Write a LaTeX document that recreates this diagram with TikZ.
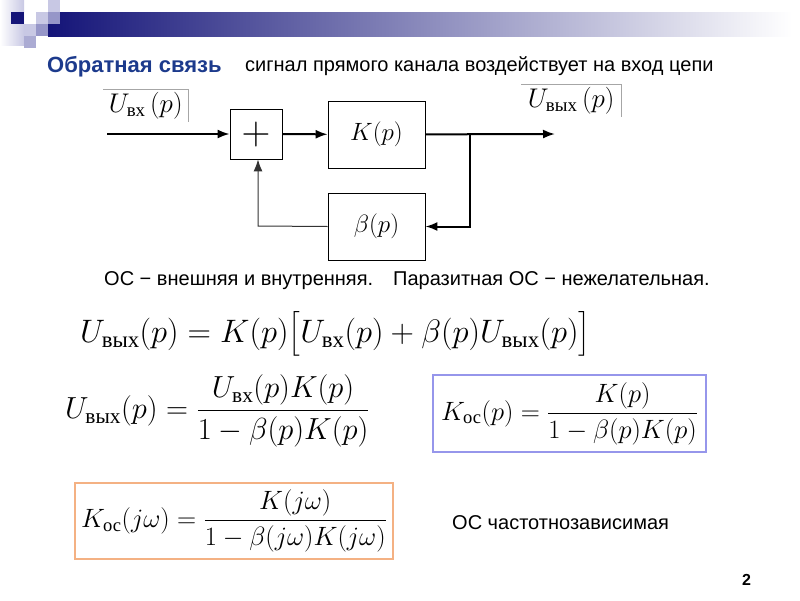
\RequirePackage{fix-cm}
\documentclass[tikz,border=0pt]{standalone}
\usepackage{fontspec}
\usepackage{amsmath}
\setmainfont{Liberation Sans}
\newfontfamily\tnr{Liberation Serif}
\usetikzlibrary{arrows.meta}
\definecolor{navy}{RGB}{20,20,120}
\definecolor{titleblue}{RGB}{28,58,140}
\definecolor{lav}{RGB}{200,200,228}
\definecolor{lavmid}{RGB}{150,150,200}
\definecolor{boxblue}{RGB}{150,150,235}
\definecolor{boxorange}{RGB}{244,177,131}
\newcommand{\cyr}[1]{\text{\tnr #1}}

\tikzset{
  blk/.style={draw, line width=0.8pt, minimum width=97pt, minimum height=67pt, inner sep=0pt, font=\fontsize{25}{28}\selectfont},
  fwd/.style={line width=2pt, -{Latex[length=12pt,width=9pt]}},
  fb/.style={line width=1pt, draw=black!80, -{Latex[length=12pt,width=9pt]}},
  lbl/.style={draw=black!35, line width=0.8pt},
  lblbox/.style={anchor=north west, inner sep=0pt, font=\fontsize{27}{30}\selectfont},
  txt/.style={anchor=base west, inner sep=0pt, font=\fontsize{20}{24}\selectfont},
  eq/.style={inner sep=0pt, font=\fontsize{26.5}{30}\selectfont},
}

\begin{document}
\begin{tikzpicture}[x=1pt,y=-1pt]
\useasboundingbox (0,0) rectangle (800,600);

%header
\shade[left color=navy, right color=white] (48,12) rectangle (792,36);
\shade[left color=white, right color=lav] (0,0) rectangle (24,45);
\fill[navy] (11,12) rectangle (24,24);
\fill[lav] (24,24) rectangle (36,36);
\fill[lav] (36,12) rectangle (48,24);
\fill[lavmid] (36,24) rectangle (48,36);
\fill[lav] (48,0) rectangle (60,12);
\fill[lavmid] (48,12) rectangle (60,24);
\fill[lavmid!80] (24,36) rectangle (36,48);

%title
\node[txt, font=\bfseries\fontsize{22}{24}\selectfont, text=titleblue] (title) at (47,72) {Обратная связь};
\node[txt] (sub) at (245,71) {сигнал прямого канала воздействует на вход цепи};

%block diagram
\node[blk, minimum width=52pt, minimum height=50pt, font=\fontsize{40}{40}\selectfont] (plus) at (256,134) {$+$};
\node[blk] (K) at (376.5,134.5) {$K(p)$};
\node[blk] (beta) at (376.5,226.5) {$\beta(p)$};
\coordinate (in) at (107,134);
\coordinate (out) at (555,134);
\coordinate (branch) at (470,134);
\coordinate (fbcorner) at (258,226);

\draw[fwd] (in) -- (plus);
\draw[fwd] (plus) -- (K);
\draw[fwd] (K) -- (out);
\draw[fwd] (branch) |- (beta);
\draw[fb] (beta.west) -- (fbcorner) -- (plus.south -| fbcorner);

\node[lblbox, minimum width=85pt, minimum height=33pt] (uin) at (103,89) {$U_{\cyr{вх}}\,(p)$};
\draw[lbl] (uin.north west) -- (uin.north east) -- (uin.south east);
\node[lblbox, minimum width=100pt, minimum height=33pt] (uout) at (521,84) {$U_{\cyr{вых}}\,(p)$};
\draw[lbl] (uout.north west) -- (uout.north east) -- (uout.south east);

%remarks
\node[txt] (osA) at (104,285) {ОС − внешняя и внутренняя.};
\node[txt] (osB) at (393,285) {Паразитная ОС − нежелательная.};

%equations
\node[eq, anchor=west, font=\fontsize{32.5}{34}\selectfont] (eqa) at (80,334) {$U_{\cyr{вых}}(p)=K(p)\big[U_{\cyr{вх}}(p)+\beta(p)U_{\cyr{вых}}(p)\big]$};
\node[eq, anchor=west, font=\fontsize{30.5}{32}\selectfont] (eqb) at (65,411) {$U_{\cyr{вых}}(p)=\dfrac{U_{\cyr{вх}}(p)K(p)}{1-\beta(p)K(p)}$};
\node[eq, draw=boxblue, line width=1.2pt, minimum width=273pt, minimum height=77pt] (kp) at (569.5,413.5) {$K_{\cyr{ос}}(p)=\dfrac{K(p)}{1-\beta(p)K(p)}$};
\node[eq, draw=boxorange, line width=1.2pt, minimum width=318pt, minimum height=76pt] (kjw) at (234,521) {$K_{\cyr{ос}}(j\omega)=\dfrac{K(j\omega)}{1-\beta(j\omega)K(j\omega)}$};

\node[txt] (freq) at (452,529) {ОС частотнозависимая};
\node[txt, font=\bfseries\fontsize{16}{18}\selectfont] (page) at (742,585) {2};

\end{tikzpicture}
\end{document}
